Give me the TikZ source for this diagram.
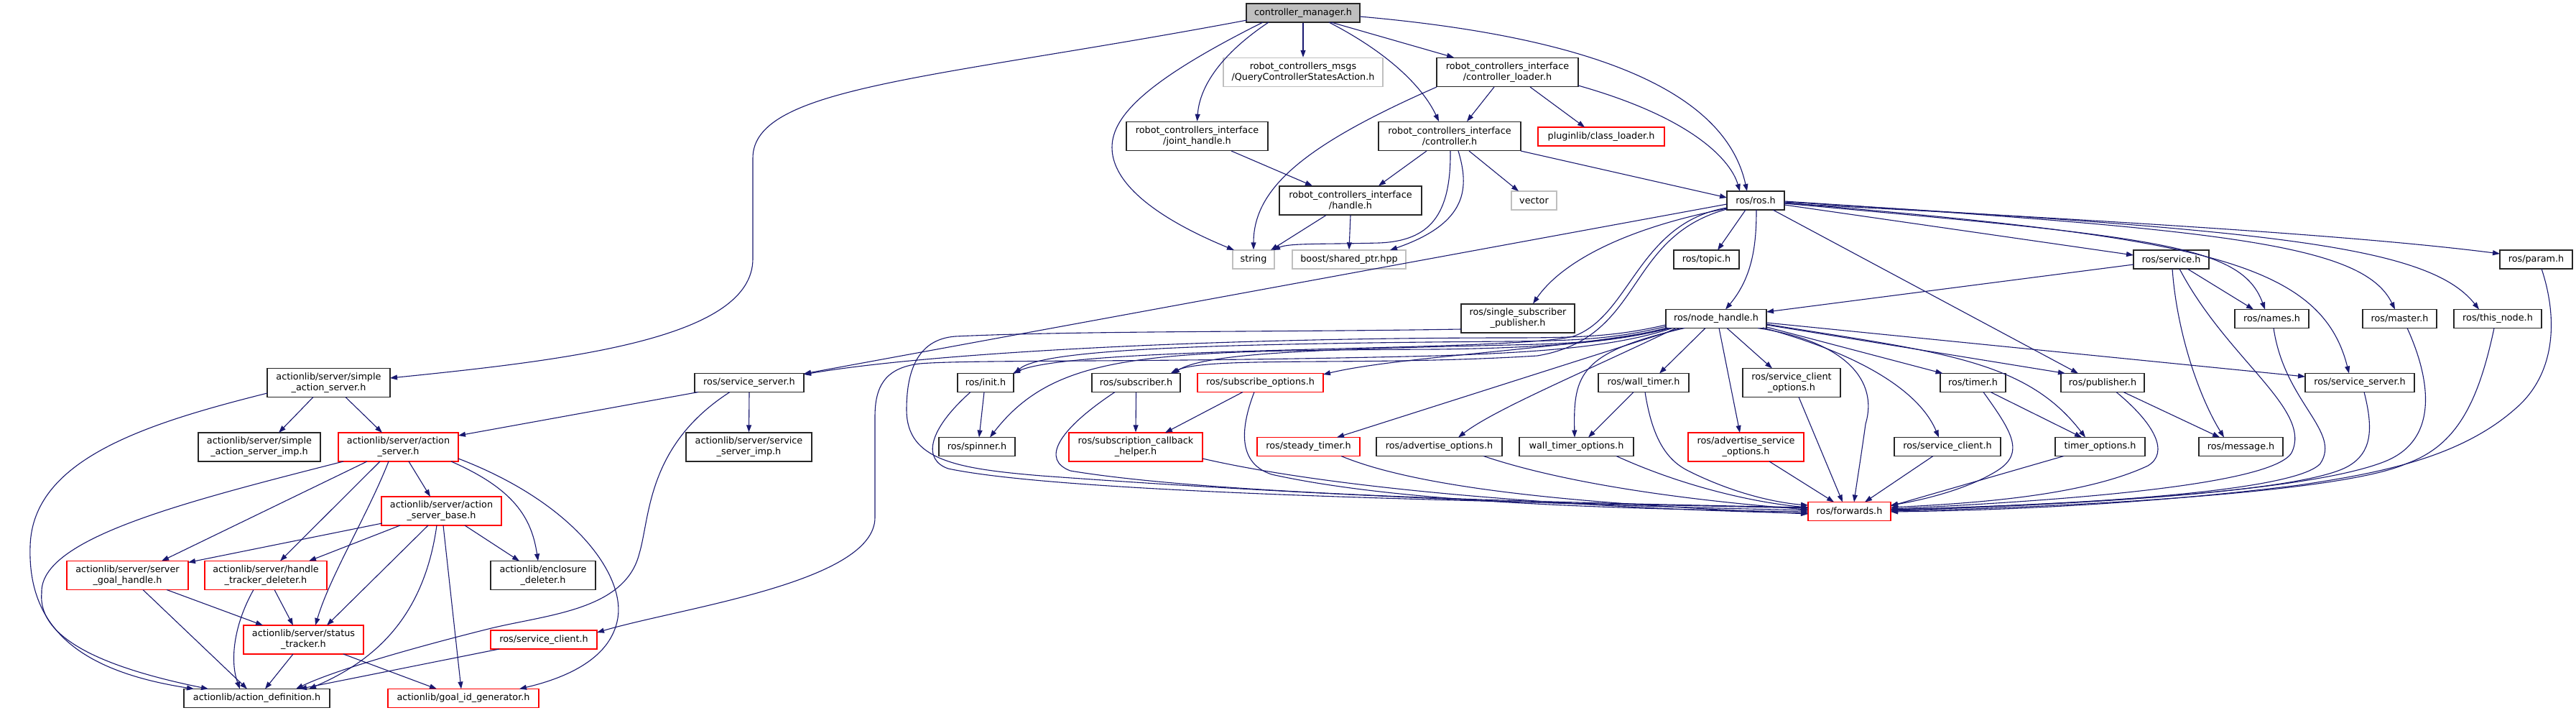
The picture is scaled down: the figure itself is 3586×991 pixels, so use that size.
\documentclass[tikz,border=0pt]{standalone}
\usepackage{fontspec}
\newfontfamily\dvs{DejaVu Sans}
\usetikzlibrary{arrows.meta}
\definecolor{eblue}{HTML}{191970}
\definecolor{lgray}{HTML}{BFBFBF}
\tikzset{
 nb/.style={draw=black!85, line width=1.4pt, fill=white, inner sep=0pt, align=center, font={\dvs\fontsize{12.8pt}{15pt}\selectfont}},
 nred/.style={nb, draw=red},
 ngray/.style={nb, draw=lgray},
 one/.style={minimum height=26pt},
 two/.style={minimum height=40pt},
 e/.style={draw=eblue, line width=1.1pt, -{Triangle[length=10pt,width=7pt]}}
}
\begin{document}
\begin{tikzpicture}[x=1pt,y=-1pt]
\fill[white] (0,0) rectangle (3586,991);
\useasboundingbox (0,0) rectangle (3586,991);
% nodes
\node[nb, fill=lgray, minimum width=158pt, one] (cm) at (1814,18) {controller\_manager.h};
\node[ngray, minimum width=222pt, two] (qcs) at (1814,100.5) {robot\_controllers\_msgs\\/QueryControllerStatesAction.h};
\node[nb, minimum width=197pt, two] (cl) at (2098.5,100.5) {robot\_controllers\_interface\\/controller\_loader.h};
\node[nb, minimum width=197pt, two] (jh) at (1666.5,189.5) {robot\_controllers\_interface\\/joint\_handle.h};
\node[nb, minimum width=198pt, two] (ctrl) at (2018,189.5) {robot\_controllers\_interface\\/controller.h};
\node[nred, minimum width=176pt, one] (plc) at (2229,190) {pluginlib/class\_loader.h};
\node[nb, minimum width=198pt, two] (hdl) at (1880,279) {robot\_controllers\_interface\\/handle.h};
\node[ngray, minimum width=63pt, one] (vec) at (2135.5,279) {vector};
\node[nb, minimum width=80pt, one] (rosh) at (2444,279) {ros/ros.h};
\node[ngray, minimum width=58pt, one] (str) at (1745,361) {string};
\node[ngray, minimum width=158pt, one] (bsp) at (1878,361) {boost/shared\_ptr.hpp};
\node[nb, minimum width=91pt, one] (topic) at (2375.5,361) {ros/topic.h};
\node[nb, minimum width=105pt, one] (svc) at (3022.5,361) {ros/service.h};
\node[nb, minimum width=101pt, one] (param) at (3530.5,361) {ros/param.h};
\node[nb, minimum width=158pt, two] (ssp) at (2113,443) {ros/single\_subscriber\\\_publisher.h};
\node[nb, minimum width=140pt, one] (nh) at (2389,443.5) {ros/node\_handle.h};
\node[nb, minimum width=103pt, one] (names) at (3162.5,443.5) {ros/names.h};
\node[nb, minimum width=103pt, one] (master) at (3340.5,443.5) {ros/master.h};
\node[nb, minimum width=122pt, one] (thisnode) at (3477,443.5) {ros/this\_node.h};
\node[nb, minimum width=171pt, two] (sas) at (457.5,532.5) {actionlib/server/simple\\\_action\_server.h};
\node[nb, minimum width=152pt, one] (srvL) at (1043,532.5) {ros/service\_server.h};
\node[nb, minimum width=78pt, one] (init) at (1372,532.5) {ros/init.h};
\node[nb, minimum width=123pt, one] (sub) at (1581.5,532.5) {ros/subscriber.h};
\node[nred, minimum width=175pt, one] (subopt) at (1754.5,532.5) {ros/subscribe\_options.h};
\node[nb, minimum width=126pt, one] (wt) at (2288,532.5) {ros/wall\_timer.h};
\node[nb, minimum width=136pt, two] (sco) at (2494,532.5) {ros/service\_client\\\_options.h};
\node[nb, minimum width=91pt, one] (timer) at (2746.5,532.5) {ros/timer.h};
\node[nb, minimum width=116pt, one] (pub) at (2927,532.5) {ros/publisher.h};
\node[nb, minimum width=152pt, one] (srvR) at (3285,532.5) {ros/service\_server.h};
\node[nb, minimum width=170pt, two] (sasimp) at (361,622) {actionlib/server/simple\\\_action\_server\_imp.h};
\node[nred, minimum width=167pt, two] (as) at (554.5,622) {actionlib/server/action\\\_server.h};
\node[nb, minimum width=175pt, two] (ssimp) at (1042.5,622) {actionlib/server/service\\\_server\_imp.h};
\node[nb, minimum width=106pt, one] (spin) at (1360,621.5) {ros/spinner.h};
\node[nred, minimum width=186pt, two] (sch) at (1581,622) {ros/subscription\_callback\\\_helper.h};
\node[nred, minimum width=143pt, one] (steady) at (1821.5,621.5) {ros/steady\_timer.h};
\node[nb, minimum width=175pt, one] (advo) at (2003.5,621.5) {ros/advertise\_options.h};
\node[nb, minimum width=159pt, one] (wto) at (2194.5,621.5) {wall\_timer\_options.h};
\node[nred, minimum width=161pt, two] (aso) at (2430.5,622) {ros/advertise\_service\\\_options.h};
\node[nb, minimum width=148pt, one] (scR) at (2711,621.5) {ros/service\_client.h};
\node[nb, minimum width=125pt, one] (topt) at (2923.5,621.5) {timer\_options.h};
\node[nb, minimum width=117pt, one] (msg) at (3119.5,621.5) {ros/message.h};
\node[nred, minimum width=167pt, two] (asb) at (614.5,711) {actionlib/server/action\\\_server\_base.h};
\node[nred, minimum width=115pt, one] (fwd) at (2574.5,711.5) {ros/forwards.h};
\node[nred, minimum width=169pt, two] (sgh) at (177.5,800.5) {actionlib/server/server\\\_goal\_handle.h};
\node[nred, minimum width=170pt, two] (htd) at (370,800.5) {actionlib/server/handle\\\_tracker\_deleter.h};
\node[nb, minimum width=146pt, two] (encl) at (756,800.5) {actionlib/enclosure\\\_deleter.h};
\node[nred, minimum width=167pt, two] (st) at (422.5,890) {actionlib/server/status\\\_tracker.h};
\node[nred, minimum width=148pt, one] (scL) at (757,890) {ros/service\_client.h};
\node[nb, minimum width=203pt, one] (ad) at (357.5,971.5) {actionlib/action\_definition.h};
\node[nred, minimum width=210pt, one] (gig) at (645,971.5) {actionlib/goal\_id\_generator.h};
% edges from controller_manager
\draw[e] ([shift={(-78,10)}]cm.center) .. controls (1300,110) and (1048,120) .. (1048,220) -- (1048,360) .. controls (1048,470) and (800,500) .. ([shift={(85.5,-6.5)}]sas.center);
\draw[e] (cm.south) -- (qcs.north);
\draw[e] ([shift={(39,13)}]cm.center) -- ([shift={(-74.5,-20.5)}]cl.center);
\draw[e] ([shift={(-48,13)}]cm.center) .. controls (1700,75) and (1670,120) .. (jh.north);
\draw[e] ([shift={(-56,13)}]cm.center) .. controls (1600,110) and (1548,160) .. (1548,205) .. controls (1548,270) and (1650,320) .. ([shift={(-27,-13)}]str.center);
\draw[e] ([shift={(36,13)}]cm.center) .. controls (1945,80) and (1985,130) .. ([shift={(-15,-20.5)}]ctrl.center);
\draw[e] ([shift={(79,5)}]cm.center) .. controls (2200,50) and (2400,120) .. ([shift={(-12,-13)}]rosh.center);
% controller_loader
\draw[e] ([shift={(-98.5,20.5)}]cl.center) .. controls (1820,200) and (1745,260) .. (str.north);
\draw[e] ([shift={(-18.5,20.5)}]cl.center) -- ([shift={(24,-20.5)}]ctrl.center);
\draw[e] ([shift={(31.5,20.5)}]cl.center) -- ([shift={(-23,-13)}]plc.center);
\draw[e] ([shift={(98.5,18.5)}]cl.center) .. controls (2360,165) and (2410,225) .. ([shift={(-22,-13)}]rosh.center);
% joint_handle, controller, handle
\draw[e] ([shift={(47.5,20.5)}]jh.center) -- ([shift={(-53,-20.5)}]hdl.center);
\draw[e] ([shift={(-32,20.5)}]ctrl.center) -- ([shift={(39,-20.5)}]hdl.center);
\draw[e] ([shift={(1,20.5)}]ctrl.center) .. controls (2020,300) and (1990,335) .. (1920,338) .. controls (1840,340) and (1795,338) .. ([shift={(27,-13)}]str.center);
\draw[e] ([shift={(12,20.5)}]ctrl.center) .. controls (2045,260) and (2045,310) .. ([shift={(57,-13)}]bsp.center);
\draw[e] ([shift={(27,20.5)}]ctrl.center) -- ([shift={(-21.5,-13)}]vec.center);
\draw[e] ([shift={(99,20.5)}]ctrl.center) -- ([shift={(-40,-4)}]rosh.center);
\draw[e] ([shift={(-34,20.5)}]hdl.center) -- ([shift={(24,-13)}]str.center);
\draw[e] (hdl.south) -- (bsp.north);
% ros/ros.h
\draw[e] ([shift={(-14,13)}]rosh.center) -- ([shift={(15.5,-13)}]topic.center);
\draw[e] ([shift={(1,13)}]rosh.center) .. controls (2445,340) and (2440,385) .. ([shift={(13,-13)}]nh.center);
\draw[e] ([shift={(-40,11)}]rosh.center) .. controls (2250,320) and (2170,370) .. ([shift={(21,-20.5)}]ssp.center);
\draw[e] ([shift={(-40,5)}]rosh.center) -- ([shift={(76,-12.5)}]srvL.center);
\draw[e] ([shift={(-40,10)}]rosh.center) .. controls (2280,310) and (2270,440) .. (2190,468) .. controls (2100,490) and (1500,480) .. ([shift={(38,-13)}]init.center);
\draw[e] ([shift={(-40,12)}]rosh.center) .. controls (2260,330) and (2290,470) .. (2140,495) .. controls (1900,510) and (1680,495) .. ([shift={(48,-13)}]sub.center);
\draw[e] ([shift={(24,13)}]rosh.center) -- ([shift={(-34,-13)}]pub.center);
\draw[e] ([shift={(40,6)}]rosh.center) -- ([shift={(-52.5,-6)}]svc.center);
\draw[e] ([shift={(40,4)}]rosh.center) .. controls (3000,330) and (3120,340) .. ([shift={(-9.5,-13)}]names.center);
\draw[e] ([shift={(40,3)}]rosh.center) .. controls (3050,330) and (3230,360) .. ([shift={(-15,-13)}]srvR.center);
\draw[e] ([shift={(40,1)}]rosh.center) .. controls (3100,320) and (3290,340) .. ([shift={(-6.5,-13)}]master.center);
\draw[e] ([shift={(40,2)}]rosh.center) .. controls (3150,320) and (3380,340) .. ([shift={(-26,-13)}]thisnode.center);
\draw[e] ([shift={(40,4)}]rosh.center) .. controls (3000,310) and (3300,330) .. ([shift={(-50.5,-8)}]param.center);
% ros/service.h and right part
\draw[e] ([shift={(-52.5,7)}]svc.center) -- ([shift={(70,-9.5)}]nh.center);
\draw[e] ([shift={(22.5,13)}]svc.center) -- ([shift={(-25.5,-13)}]names.center);
\draw[e] ([shift={(1.5,13)}]svc.center) .. controls (3030,460) and (3060,550) .. ([shift={(-23.5,-13)}]msg.center);
\draw[e] ([shift={(11.5,13)}]svc.center) .. controls (3100,500) and (3220,570) .. (3190,630) .. controls (3160,680) and (2800,700) .. ([shift={(57.5,-3.5)}]fwd.center);
\draw[e] ([shift={(2.5,13)}]names.center) .. controls (3180,560) and (3260,600) .. (3230,645) .. controls (3190,690) and (2800,705) .. ([shift={(57.5,-2.5)}]fwd.center);
\draw[e] ([shift={(10.5,13)}]master.center) .. controls (3380,520) and (3400,610) .. (3320,642) .. controls (3200,690) and (2800,705) .. ([shift={(57.5,-1.5)}]fwd.center);
\draw[e] ([shift={(-5,13)}]thisnode.center) .. controls (3450,560) and (3420,620) .. (3350,645) .. controls (3250,690) and (2800,708) .. ([shift={(57.5,-0.5)}]fwd.center);
\draw[e] ([shift={(7.5,13)}]param.center) .. controls (3560,440) and (3560,520) .. (3500,570) .. controls (3420,640) and (3300,660) .. (3200,675) .. controls (3000,700) and (2800,710) .. ([shift={(57.5,0.5)}]fwd.center);
\draw[e] ([shift={(6,13)}]srvR.center) .. controls (3305,600) and (3300,630) .. (3270,648) .. controls (3200,690) and (2800,704) .. ([shift={(57.5,-2.5)}]fwd.center);
\draw[e] ([shift={(29,13)}]pub.center) -- ([shift={(-29.5,-13)}]msg.center);
\draw[e] ([shift={(19,13)}]pub.center) .. controls (3000,590) and (3020,630) .. (2990,648) .. controls (2900,690) and (2750,700) .. ([shift={(57.5,-5.5)}]fwd.center);
\draw[e] ([shift={(24.5,13)}]timer.center) -- ([shift={(-25.5,-13)}]topt.center);
\draw[e] ([shift={(14.5,13)}]timer.center) .. controls (2800,600) and (2820,630) .. (2780,655) .. controls (2740,680) and (2680,695) .. ([shift={(57.5,-8.5)}]fwd.center);
\draw[e] ([shift={(-50.5,13)}]topt.center) -- ([shift={(57.5,-7.5)}]fwd.center);
\draw[e] ([shift={(-20,13)}]scR.center) -- ([shift={(21.5,-13)}]fwd.center);
% ros/node_handle.h
\draw[e] ([shift={(-15,13)}]nh.center) -- ([shift={(22,-13)}]wt.center);
\draw[e] ([shift={(4,13)}]nh.center) -- ([shift={(-8.5,-20)}]aso.center);
\draw[e] ([shift={(15,13)}]nh.center) -- ([shift={(-27,-20)}]sco.center);
\draw[e] ([shift={(58,13)}]nh.center) .. controls (2570,475) and (2615,530) .. (2597,590) .. controls (2590,640) and (2585,670) .. ([shift={(6.5,-13)}]fwd.center);
\draw[e] ([shift={(70,11.5)}]nh.center) -- ([shift={(-42,-13)}]timer.center);
\draw[e] ([shift={(65,12.5)}]nh.center) .. controls (2580,490) and (2670,540) .. ([shift={(-12,-13)}]scR.center);
\draw[e] ([shift={(70,8.5)}]nh.center) -- ([shift={(-52,-13)}]pub.center);
\draw[e] ([shift={(70,7.5)}]nh.center) .. controls (2700,490) and (2820,500) .. ([shift={(-20.5,-13)}]topt.center);
\draw[e] ([shift={(70,5.5)}]nh.center) -- ([shift={(-76,-8.5)}]srvR.center);
\draw[e] ([shift={(-44,13)}]nh.center) .. controls (2200,490) and (2190,520) .. ([shift={(-2.5,-13)}]wto.center);
\draw[e] ([shift={(-56,13)}]nh.center) .. controls (2200,520) and (2080,570) .. ([shift={(26.5,-13)}]advo.center);
\draw[e] ([shift={(-50,13)}]nh.center) -- ([shift={(39.5,-13)}]steady.center);
\draw[e] ([shift={(-70,8.5)}]nh.center) .. controls (2250,468) and (2200,470) .. (2100,470) .. controls (1700,470) and (1300,490) .. ([shift={(76,-11.5)}]srvL.center);
\draw[e] ([shift={(-69,10.5)}]nh.center) .. controls (2250,471) and (2200,474) .. (2100,475) .. controls (1700,478) and (1450,485) .. ([shift={(40,-12.5)}]init.center);
\draw[e] ([shift={(-68,12.5)}]nh.center) .. controls (2250,474) and (2200,478) .. (2100,480) .. controls (1850,486) and (1680,490) .. ([shift={(50.5,-12.5)}]sub.center);
\draw[e] ([shift={(-66,13)}]nh.center) .. controls (2200,485) and (1950,495) .. ([shift={(87.5,-11.5)}]subopt.center);
\draw[e] ([shift={(-64,13)}]nh.center) .. controls (2250,476) and (2150,484) .. (2000,486) .. controls (1600,488) and (1470,490) .. ([shift={(18,-13)}]spin.center);
\draw[e] ([shift={(-61,13)}]nh.center) .. controls (2250,482) and (2150,490) .. (2000,495) .. controls (1600,505) and (1350,500) .. (1280,506) .. controls (1230,512) and (1218,540) .. (1218,580) -- (1218,720) .. controls (1218,810) and (950,845) .. ([shift={(74,-10)}]scL.center);
% single subscriber publisher and lower middle
\draw[e] ([shift={(-79,15)}]ssp.center) .. controls (1800,462) and (1500,460) .. (1330,468) .. controls (1275,472) and (1262,520) .. (1262,570) .. controls (1262,640) and (1330,652) .. (1450,662) .. controls (1900,695) and (2300,705) .. ([shift={(-57.5,-1.5)}]fwd.center);
\draw[e] ([shift={(-2,13)}]init.center) -- ([shift={(3,-13)}]spin.center);
\draw[e] ([shift={(-21,13)}]init.center) .. controls (1290,600) and (1285,640) .. (1320,652) .. controls (1500,690) and (2200,700) .. ([shift={(-57.5,-4.5)}]fwd.center);
\draw[e] (sub.south) -- (sch.north);
\draw[e] ([shift={(-29.5,13)}]sub.center) .. controls (1470,600) and (1450,640) .. (1490,655) .. controls (1700,690) and (2200,700) .. ([shift={(-57.5,-5.5)}]fwd.center);
\draw[e] ([shift={(-24.5,13)}]subopt.center) -- ([shift={(41,-20)}]sch.center);
\draw[e] ([shift={(-8.5,13)}]subopt.center) .. controls (1725,600) and (1725,645) .. (1770,660) .. controls (1950,700) and (2250,708) .. ([shift={(-57.5,0.5)}]fwd.center);
\draw[e] ([shift={(93,16)}]sch.center) .. controls (1900,690) and (2300,710) .. ([shift={(-57.5,2.5)}]fwd.center);
\draw[e] ([shift={(45.5,13)}]steady.center) .. controls (2000,690) and (2300,705) .. ([shift={(-57.5,3.5)}]fwd.center);
\draw[e] ([shift={(61.5,13)}]advo.center) .. controls (2200,680) and (2400,700) .. ([shift={(-57.5,-2.5)}]fwd.center);
\draw[e] ([shift={(55.5,13)}]wto.center) .. controls (2350,680) and (2450,700) .. ([shift={(-57.5,-5.5)}]fwd.center);
\draw[e] ([shift={(-14,13)}]wt.center) -- ([shift={(16.5,-13)}]wto.center);
\draw[e] ([shift={(2,13)}]wt.center) .. controls (2300,610) and (2320,640) .. (2350,655) .. controls (2420,690) and (2480,700) .. ([shift={(-57.5,-8.5)}]fwd.center);
\draw[e] ([shift={(32.5,20)}]aso.center) -- ([shift={(-21.5,-13)}]fwd.center);
\draw[e] ([shift={(10,20)}]sco.center) -- ([shift={(-9.5,-13)}]fwd.center);
% actionlib
\draw[e] ([shift={(-21.5,20)}]sas.center) -- ([shift={(27,-20)}]sasimp.center);
\draw[e] ([shift={(23.5,20)}]sas.center) -- ([shift={(-22.5,-20)}]as.center);
\draw[e] ([shift={(-85.5,14.5)}]sas.center) .. controls (200,590) and (45,640) .. (42,760) .. controls (38,880) and (120,935) .. ([shift={(-87.5,-13)}]ad.center);
\draw[e] ([shift={(-71,13)}]srvL.center) -- ([shift={(83.5,-16)}]as.center);
\draw[e] (srvL.south) -- (ssimp.north);
\draw[e] ([shift={(-27,13)}]srvL.center) .. controls (900,620) and (905,720) .. (890,770) .. controls (870,850) and (760,855) .. (680,875) .. controls (560,905) and (460,935) .. ([shift={(54.5,-13)}]ad.center);
\draw[e] ([shift={(-62,13)}]scL.center) -- ([shift={(59.5,-13)}]ad.center);
\draw[e] ([shift={(14.5,20)}]as.center) -- ([shift={(-15.5,-20)}]asb.center);
\draw[e] ([shift={(-43.5,20)}]as.center) -- ([shift={(47.5,-20)}]sgh.center);
\draw[e] ([shift={(-25.5,20)}]as.center) -- ([shift={(20,-20)}]htd.center);
\draw[e] ([shift={(-13.5,20)}]as.center) .. controls (510,720) and (460,800) .. ([shift={(16.5,-20)}]st.center);
\draw[e] ([shift={(-76.5,20)}]as.center) .. controls (250,700) and (55,750) .. (58,825) .. controls (52,890) and (150,930) .. ([shift={(-67.5,-13)}]ad.center);
\draw[e] ([shift={(73.5,20)}]as.center) .. controls (715,680) and (740,720) .. ([shift={(-7,-20)}]encl.center);
\draw[e] ([shift={(83.5,16)}]as.center) .. controls (800,700) and (870,800) .. (860,860) .. controls (850,920) and (780,945) .. ([shift={(78,-13)}]gig.center);
\draw[e] ([shift={(-82.5,17)}]asb.center) -- ([shift={(84.5,-18)}]sgh.center);
\draw[e] ([shift={(-57.5,20)}]asb.center) -- ([shift={(60,-20)}]htd.center);
\draw[e] ([shift={(-18.5,20)}]asb.center) -- ([shift={(32.5,-20)}]st.center);
\draw[e] ([shift={(-6.5,20)}]asb.center) .. controls (590,860) and (520,920) .. ([shift={(72.5,-13)}]ad.center);
\draw[e] ([shift={(2.5,20)}]asb.center) -- ([shift={(-3,-13)}]gig.center);
\draw[e] ([shift={(32.5,20)}]asb.center) -- ([shift={(-33,-20)}]encl.center);
\draw[e] ([shift={(54.5,20)}]sgh.center) -- ([shift={(-56.5,-20)}]st.center);
\draw[e] ([shift={(21.5,20)}]sgh.center) -- ([shift={(-13.5,-13)}]ad.center);
\draw[e] ([shift={(12,20)}]htd.center) -- ([shift={(-14.5,-20)}]st.center);
\draw[e] ([shift={(-17,20)}]htd.center) .. controls (325,870) and (320,920) .. ([shift={(-23.5,-13)}]ad.center);
\draw[e] ([shift={(-14.5,20)}]st.center) -- ([shift={(11.5,-13)}]ad.center);
\draw[e] ([shift={(55.5,20)}]st.center) -- ([shift={(-37,-13)}]gig.center);
\end{tikzpicture}
\end{document}
